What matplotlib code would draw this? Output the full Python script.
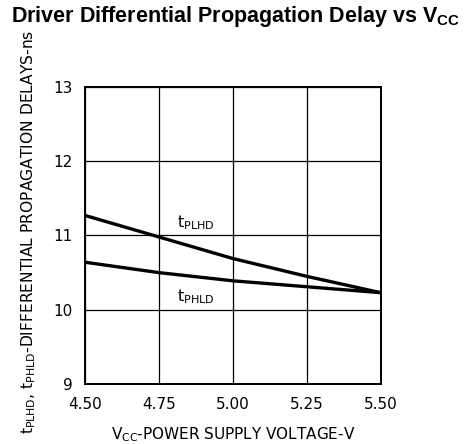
import matplotlib
matplotlib.use("Agg")
import matplotlib.pyplot as plt

vcc = [4.50, 4.75, 5.00, 5.25, 5.50]
t_plhd = [11.27, 10.98, 10.69, 10.45, 10.23]
t_phld = [10.64, 10.50, 10.39, 10.31, 10.23]
xticks = [4.50, 4.75, 5.00, 5.25, 5.50]
xtick_labels = ["4.50", "4.75", "5.00", "5.25", "5.50"]
yticks = [9, 10, 11, 12, 13]

plt.rcParams['font.family'] = ['DejaVu Sans']
plt.rcParams['mathtext.fontset'] = 'custom'
plt.rcParams['mathtext.rm'] = 'DejaVu Sans'
plt.rcParams['mathtext.it'] = 'DejaVu Sans'
plt.rcParams['mathtext.bf'] = 'Liberation Sans:bold'
plt.rcParams['mathtext.default'] = 'regular'

fig = plt.figure(figsize=(4.70, 4.44), dpi=100)
ax = fig.add_axes([0.1809, 0.1351, 0.629, 0.669])

ax.plot(vcc, t_plhd, color='black', lw=2.4, solid_capstyle='butt')
ax.plot(vcc, t_phld, color='black', lw=2.4, solid_capstyle='butt')

ax.set_xlim(4.50, 5.50)
ax.set_ylim(9, 13)
ax.set_xticks(xticks)
ax.set_xticklabels(xtick_labels)
ax.set_yticks(yticks)
ax.grid(True, color='black', lw=0.9)
ax.tick_params(length=0, labelsize=11, pad=9)
for s in ax.spines.values():
    s.set_linewidth(1.4)

ax.text(4.81, 11.17, r"$t_{PLHD}$", fontsize=11.5, va='center', ha='left')
ax.text(4.81, 10.17, r"$t_{PHLD}$", fontsize=11.5, va='center', ha='left')

ax.set_xlabel(r"$V_{CC}$-POWER SUPPLY VOLTAGE-V", fontsize=11, labelpad=10)
fig.text(0.062, 0.478, r"$t_{PLHD}$, $t_{PHLD}$-DIFFERENTIAL PROPAGATION DELAYS-ns",
         rotation=90, fontsize=11.2, ha='center', va='center')

fig.text(0.5, 0.962, r"Driver Differential Propagation Delay vs $\mathbf{V_{CC}}$",
         fontsize=15.5, fontweight='bold', family='Liberation Sans', ha='center', va='center')

fig.savefig("out.png", dpi=100)
